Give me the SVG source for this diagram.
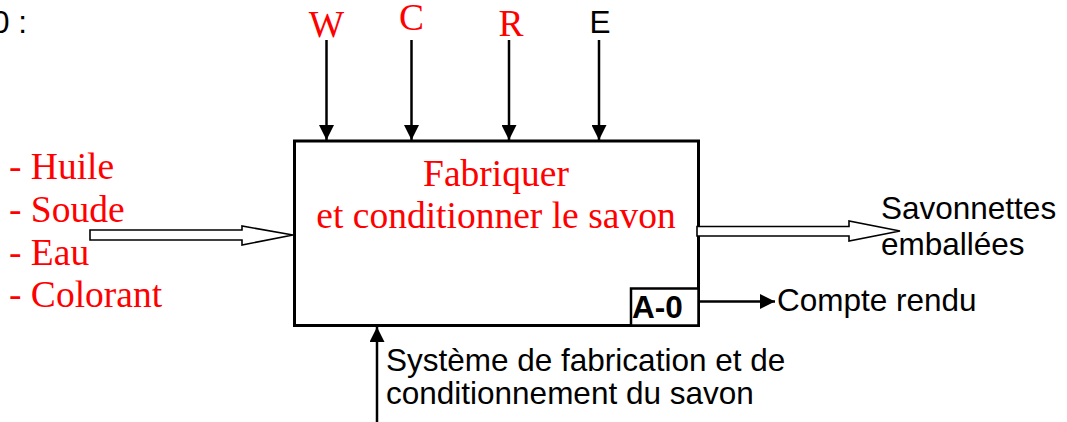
<svg xmlns="http://www.w3.org/2000/svg" width="1067" height="422" viewBox="0 0 1067 422">
<style>
.tr{font-family:"Liberation Serif","Times New Roman",serif;font-size:37.5px;fill:#ff0000}
.ar{font-family:"Liberation Sans",Arial,sans-serif;font-size:31.5px;fill:#000}
.ln{stroke:#000;stroke-width:2.5;fill:none}
.hollow{fill:#fff;stroke:#000;stroke-width:1.6;stroke-linejoin:miter}
</style>
<defs>
<marker id="ah" viewBox="0 0 10 10" refX="10" refY="5" markerWidth="15" markerHeight="15" markerUnits="userSpaceOnUse" orient="auto">
<path d="M0,0 L10,5 L0,10 Z" fill="#000"/>
</marker>
</defs>
<rect width="1067" height="422" fill="#fff"/>
<text class="ar" x="-8" y="33">0 :</text>
<g id="inputs">
<text class="tr" x="9" y="179">- Huile</text>
<text class="tr" x="9" y="222">- Soude</text>
<text class="tr" x="9" y="265">- Eau</text>
<text class="tr" x="9" y="307">- Colorant</text>
</g>
<g id="controls">
<text class="tr" x="326.5" y="37" text-anchor="middle" font-size="35">W</text>
<text class="tr" x="411.5" y="30" text-anchor="middle" font-size="35">C</text>
<text class="tr" x="511" y="36" text-anchor="middle" font-size="35">R</text>
<text class="ar" x="600" y="33" text-anchor="middle">E</text>
</g>
<g id="A0">
<rect x="294.5" y="141" width="404" height="184.5" fill="#fff" stroke="#000" stroke-width="3"/>
<rect x="631" y="288.5" width="67.5" height="37" fill="#fff" stroke="#000" stroke-width="2.5"/>
<text class="ar" x="632" y="318" font-weight="bold">A-0</text>
<text class="tr" x="496" y="186" text-anchor="middle">Fabriquer</text>
<text class="tr" x="496" y="228" text-anchor="middle">et conditionner le savon</text>
</g>
<g id="outputs">
<text class="ar" x="881" y="219">Savonnettes</text>
<text class="ar" x="881" y="255">emballées</text>
<text class="ar" x="777" y="311">Compte rendu</text>
</g>
<g id="mechanism">
<text class="ar" x="386" y="371">Système de fabrication et de</text>
<text class="ar" x="386" y="404">conditionnement du savon</text>
</g>
<g id="connectors">
<line class="ln" x1="326.5" y1="40" x2="326.5" y2="140" marker-end="url(#ah)"/>
<line class="ln" x1="411.5" y1="40" x2="411.5" y2="140" marker-end="url(#ah)"/>
<line class="ln" x1="509" y1="40" x2="509" y2="140" marker-end="url(#ah)"/>
<line class="ln" x1="599" y1="40" x2="599" y2="140" marker-end="url(#ah)"/>
<path class="hollow" d="M90,230 L242,230 L242,226 L293,235 L242,245 L242,240 L90,240 Z"/>
<path class="hollow" d="M697,226.5 L849,226.5 L849,221 L900,231 L849,241 L849,236 L697,236 Z"/>
<line class="ln" x1="699" y1="301.5" x2="775" y2="301.5" marker-end="url(#ah)"/>
<line class="ln" x1="377" y1="422" x2="377" y2="327" marker-end="url(#ah)"/>
</g>
</svg>
